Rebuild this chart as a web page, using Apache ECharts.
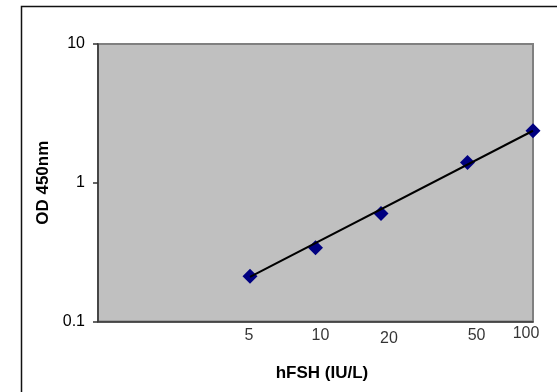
<!DOCTYPE html>
<html>
<head>
<meta charset="utf-8">
<script src="https://cdn.jsdelivr.net/npm/echarts@6/dist/echarts.min.js"></script>
<style>html,body{margin:0;padding:0;background:#fff}#c{width:557px;height:392px}</style>
</head>
<body>
<div id="c"></div>
<script>
// Data
const concentrations = [5, 10, 20, 50, 100];          // hFSH (IU/L)
const odValues = [0.212, 0.34, 0.60, 1.40, 2.37];     // OD 450nm
const trendX = [5, 100];
const trendY = [0.21, 2.37];
const xTickLabels = ['5', '10', '20', '50', '100'];

// label nudges (style only)
const labelNudge = [[-1, 0], [5, 0], [8, 3], [9, 0], [-7, -2]];

const chart = echarts.init(document.getElementById('c'), null, {renderer: 'canvas'});
const FONT = 'Liberation Sans, Arial, sans-serif';

const option = {
  animation: false,
  backgroundColor: '#fff',
  graphic: [{
    type: 'rect', silent: true, z: 100,
    shape: {x: 21.5, y: 6.5, width: 600, height: 400},
    style: {fill: 'none', stroke: '#111', lineWidth: 1.5}
  }],
  grid: {
    left: 98, right: 24, top: 44, bottom: 70.5,
    show: true, backgroundColor: '#C0C0C0',
    borderColor: '#808080', borderWidth: 2
  },
  xAxis: {
    type: 'log', logBase: 10, min: 1, max: 100,
    axisLine: {show: true, lineStyle: {color: '#333', width: 1.5}},
    axisTick: {show: false},
    axisLabel: {show: false},
    splitLine: {show: false},
    minorTick: {show: false},
    name: 'hFSH (IU/L)', nameLocation: 'middle', nameGap: 43,
    nameTextStyle: {fontFamily: FONT, fontWeight: 'bold', fontSize: 17, color: '#000', padding: [0, 0, 0, 13]}
  },
  yAxis: {
    type: 'log', logBase: 10, min: 0.1, max: 10,
    axisLine: {show: true, lineStyle: {color: '#333', width: 1.5}},
    axisTick: {show: true, length: 5, lineStyle: {color: '#333', width: 1.5}},
    axisLabel: {fontFamily: FONT, fontSize: 16, color: '#000', margin: 13,
      formatter: function (v) { return String(+v.toPrecision(3)); }},
    splitLine: {show: false},
    name: 'OD 450nm', nameLocation: 'middle', nameGap: 46, nameRotate: 90,
    nameTextStyle: {fontFamily: FONT, fontWeight: 'bold', fontSize: 17, color: '#000'}
  },
  series: [
    {
      name: 'points', type: 'scatter', z: 2,
      symbol: 'diamond', symbolSize: 15,
      itemStyle: {color: '#000080', opacity: 1},
      data: concentrations.map((x, i) => [x, odValues[i]])
    },
    {
      name: 'trend', type: 'line', z: 3,
      symbol: 'none',
      lineStyle: {color: '#000', width: 2},
      data: trendX.map((x, i) => [x, trendY[i]])
    },
    {
      name: 'xlabels', type: 'scatter', z: 4, clip: false, silent: true,
      symbolSize: 0,
      data: concentrations.map((x, i) => ({
        value: [x, 0.1],
        label: {
          show: true, position: 'bottom',
          distance: 6,
          offset: labelNudge[i],
          formatter: xTickLabels[i],
          fontFamily: FONT, fontSize: 16, color: '#000'
        }
      }))
    }
  ]
};
chart.setOption(option);
</script>
</body>
</html>
